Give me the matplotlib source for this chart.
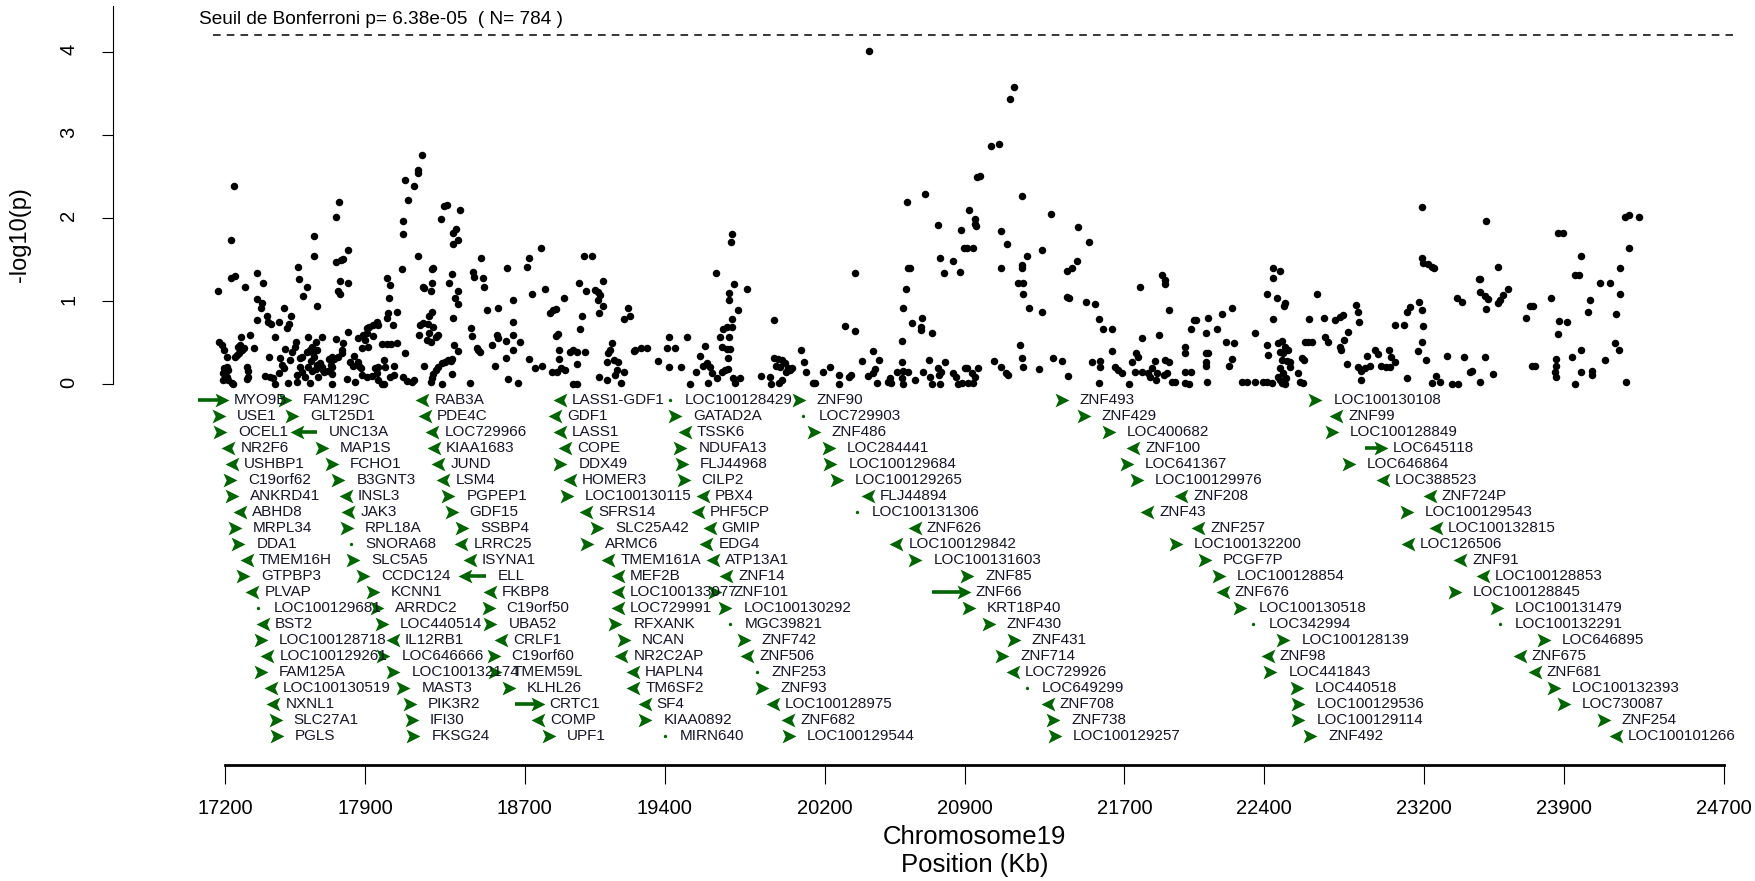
import numpy as np
import matplotlib.pyplot as plt
from matplotlib.path import Path

plt.rcParams['font.family'] = ['Liberation Sans', 'DejaVu Sans']

# SNP results along chromosome 19: (position in kb, -log10 p)
block_1 = [
    (17245, 2.38), (17230, 1.73), (17230, 1.27), (17250, 1.30), (17163, 1.12), (17302, 1.17),
    (17362, 1.33), (17392, 1.22), (17362, 1.02), (17387, 0.97), (17379, 0.91), (17360, 0.77),
    (17410, 0.82), (17417, 0.75), (17430, 0.72), (17470, 0.75), (17494, 0.92), (17530, 0.82),
    (17522, 0.72), (17512, 0.67), (17572, 1.26), (17610, 1.17), (17589, 1.06), (17662, 0.94),
    (17567, 1.41), (17647, 1.78), (17647, 1.54),
    (17684, 0.57), (17617, 0.57), (17656, 0.51), (17634, 0.45), (17659, 0.41), (17642, 0.37),
    (17626, 0.41), (17609, 0.39), (17647, 0.33), (17631, 0.28), (17617, 0.21), (17634, 0.16),
    (17656, 0.18), (17659, 0.23), (17676, 0.25), (17684, 0.21), (17692, 0.17), (17697, 0.14),
    (17667, 0.09), (17626, 0.01), (17600, 0.09), (17584, 0.15), (17575, 0.21), (17559, 0.11),
    (17559, 0.03), (17575, 0.31), (17587, 0.32), (17554, 0.51), (17550, 0.45), (17534, 0.39),
    (17525, 0.29), (17500, 0.42), (17497, 0.19), (17517, 0.01), (17484, 0.23), (17475, 0.31),
    (17450, 0.57), (17472, 0.13), (17442, 0.07), (17450, 0.00), (17420, 0.32), (17425, 0.09),
    (17400, 0.10), (17325, 0.59), (17280, 0.57), (17275, 0.47), (17287, 0.41), (17270, 0.37),
    (17297, 0.43), (17267, 0.45), (17250, 0.32), (17259, 0.35), (17347, 0.43), (17309, 0.21),
    (17314, 0.16), (17317, 0.09), (17309, 0.06), (17172, 0.50), (17183, 0.47), (17197, 0.41),
    (17209, 0.33), (17209, 0.21), (17217, 0.17), (17197, 0.19), (17192, 0.13), (17209, 0.09),
    (17217, 0.05), (17192, 0.05), (17234, 0.01), (17242, 0.00),
]

block_2 = [
    (18188, 2.75), (18164, 2.57), (18164, 2.54), (18099, 2.45), (18144, 2.38), (18114, 2.22),
    (17771, 2.19), (17756, 2.01), (18093, 1.96), (18093, 1.80), (18296, 2.14), (18313, 2.15),
    (18378, 2.09), (18283, 1.99), (18354, 1.87), (18343, 1.82), (18364, 1.73), (18343, 1.68),
    (18166, 1.54), (17816, 1.61), (17789, 1.51), (17754, 1.47), (17779, 1.49), (18086, 1.38),
    (18334, 1.32), (18319, 1.21), (18243, 1.40), (18234, 1.38), (18238, 1.22), (18231, 1.12),
    (18189, 1.17), (18198, 1.16), (18364, 1.12), (18351, 1.03), (18368, 0.96),
    (17766, 1.12), (17776, 1.08), (17777, 1.24), (17816, 1.22), (18012, 1.28), (18027, 1.19),
    (18021, 1.03), (18063, 0.87), (18017, 0.86), (18011, 0.79), (18042, 0.71), (18234, 0.87),
    (18223, 0.82), (18341, 0.80), (18348, 0.47), (18364, 0.40), (18334, 0.12), (18338, 0.30),
    (18329, 0.28), (18318, 0.29), (18301, 0.27), (18284, 0.25), (18268, 0.21), (18254, 0.17),
    (18243, 0.12), (18234, 0.07), (18231, 0.03), (18284, 0.00), (18194, 0.22), (18174, 0.71),
    (18189, 0.73), (18214, 0.72), (18173, 0.59), (18209, 0.53), (18231, 0.50), (18254, 0.57),
    (18266, 0.59), (18243, 0.69), (18223, 0.61), (18101, 0.37), (18093, 0.09), (18113, 0.04),
    (18134, 0.03), (18148, 0.05), (18044, 0.22), (18046, 0.11), (18026, 0.09), (17996, 0.29),
    (18001, 0.20), (17998, 0.00), (17984, 0.00), (17967, 0.05), (17959, 0.13), (17964, 0.21),
    (17951, 0.19), (17934, 0.10), (17909, 0.09), (17884, 0.11), (17879, 0.19), (17849, 0.03),
    (17809, 0.06), (17847, 0.34), (17826, 0.26), (17839, 0.22), (17867, 0.26), (17871, 0.22),
    (17814, 0.63), (17792, 0.49), (17787, 0.37), (17784, 0.41), (17764, 0.33), (17747, 0.30),
    (17734, 0.32), (17721, 0.30), (17729, 0.23), (17734, 0.20), (17717, 0.16), (17734, 0.12),
    (17734, 0.00), (17756, 0.54), (17867, 0.55), (17892, 0.59), (17909, 0.61), (17901, 0.53),
    (17884, 0.43), (17914, 0.45), (17909, 0.67), (17922, 0.69), (17942, 0.71), (17959, 0.75),
    (17967, 0.71), (17939, 0.58), (17984, 0.48), (18009, 0.48), (18029, 0.48), (18063, 0.49),
]

block_3 = [
    (18480, 1.52), (18781, 1.64), (18721, 1.52), (18713, 1.41), (18611, 1.40), (18443, 1.35),
    (18448, 1.29), (18490, 1.28), (18496, 1.17), (18510, 0.89), (18568, 0.92), (18641, 1.01),
    (18641, 0.75), (18736, 1.08), (18801, 1.14), (18897, 1.03), (18825, 0.86), (18840, 0.89),
    (18855, 0.90), (18855, 0.58), (18868, 0.60), (18873, 0.41), (18927, 0.39), (18943, 0.41),
    (18873, 0.30), (18882, 0.19), (18902, 0.17), (18835, 0.14), (18863, 0.14), (18943, 0.00),
    (18721, 0.30), (18750, 0.19), (18786, 0.22), (18668, 0.01), (18618, 0.06), (18553, 0.22),
    (18605, 0.31), (18641, 0.41), (18641, 0.59), (18605, 0.52), (18568, 0.55), (18560, 0.59),
    (18538, 0.47), (18676, 0.50), (18429, 0.67), (18434, 0.58), (18468, 0.41), (18460, 0.43),
    (18476, 0.38), (18428, 0.01),
    (18996, 1.54), (19034, 1.54), (18971, 1.21), (19004, 1.12), (19093, 1.24), (19093, 0.94),
    (19068, 1.11), (19051, 1.13), (19076, 1.07), (19068, 1.01), (19071, 0.85), (18984, 0.82),
    (18976, 0.66), (19001, 0.38), (18959, 0.39), (18959, 0.24), (18959, 0.00),
    (19218, 0.92), (19226, 0.82), (19198, 0.78), (19196, 0.15), (19183, 0.01), (19159, 0.17),
    (19151, 0.11), (19164, 0.26), (19148, 0.29), (19126, 0.41), (19114, 0.37), (19134, 0.49),
    (19109, 0.27), (19109, 0.05), (19071, 0.08), (19310, 0.43), (19281, 0.43), (19251, 0.41),
    (19245, 0.40), (19365, 0.28), (19410, 0.43), (19451, 0.43), (19423, 0.57), (19423, 0.20),
    (19511, 0.57), (19481, 0.20), (19555, 0.15), (19525, 0.00),
]

block_4 = [
    (19737, 1.81), (19730, 1.71), (19657, 1.33), (19745, 1.20), (19723, 1.09), (19722, 1.01),
    (19810, 1.14), (19765, 0.89), (19735, 0.78), (19693, 0.66), (19710, 0.68), (19735, 0.68),
    (19722, 0.57), (19678, 0.57), (19685, 0.45), (19710, 0.42), (19727, 0.42), (19718, 0.31),
    (19702, 0.17), (19715, 0.18), (19685, 0.15), (19743, 0.07), (19777, 0.07), (19752, 0.01),
    (19660, 0.07), (19638, 0.13), (19615, 0.01), (19627, 0.21), (19610, 0.25), (19593, 0.22),
    (19576, 0.34), (19601, 0.46),
    (19948, 0.77), (19948, 0.31), (19968, 0.30), (19988, 0.29), (20002, 0.25), (20018, 0.19),
    (20027, 0.17), (20005, 0.14), (19977, 0.21), (19957, 0.22), (19927, 0.09), (19882, 0.10),
    (19930, 0.00), (19974, 0.01), (19985, 0.05), (20035, 0.19), (20105, 0.14), (20095, 0.26),
    (20082, 0.41), (20229, 0.20), (20192, 0.14), (20140, 0.01), (20152, 0.01), (20272, 0.11),
    (20272, 0.00), (20332, 0.11), (20322, 0.09), (20352, 1.33), (20302, 0.70), (20352, 0.64),
    (20389, 0.28), (20440, 0.40), (20474, 0.29), (20452, 0.18), (20419, 0.10), (20440, 0.13),
    (20461, 0.01), (20527, 0.07), (20532, 0.01), (20519, 0.03), (20421, 4.01),
]

block_5 = [
    (20702, 2.29), (20614, 2.19), (20769, 1.91), (20883, 1.85), (20898, 1.64), (20777, 1.52),
    (20841, 1.48), (20797, 1.33), (20879, 1.35), (20616, 1.40), (20629, 1.40), (20607, 1.14),
    (20592, 0.91), (20636, 0.73), (20681, 0.69), (20681, 0.65), (20686, 0.80), (20739, 0.61),
    (20586, 0.52), (20586, 0.27), (20724, 0.29), (20803, 0.26), (20564, 0.15), (20594, 0.16),
    (20619, 0.15), (20586, 0.07), (20594, 0.00), (20652, 0.05), (20694, 0.15), (20727, 0.09),
    (20739, 0.00), (20769, 0.19), (20783, 0.15), (20774, 0.11), (20777, 0.00), (20844, 0.13),
    (20856, 0.09), (20866, 0.00), (20886, 0.01), (20903, 0.19),
    (21035, 2.86), (21074, 2.89), (20964, 2.49), (20977, 2.50), (20922, 2.09), (20952, 1.98),
    (20960, 1.90), (20952, 1.93), (20910, 1.64), (20944, 1.64), (21186, 2.26), (21332, 2.05),
    (21082, 1.84), (21112, 1.68), (21214, 1.54), (21287, 1.61), (21082, 1.40), (21186, 1.43),
    (21186, 1.40), (21169, 1.22), (21194, 1.21), (21194, 1.08), (21222, 0.91), (21287, 0.87),
    (21150, 3.58), (21127, 3.43),
    (21177, 0.47), (21189, 0.31), (21194, 0.21), (21272, 0.18), (21344, 0.31), (21386, 0.28),
    (21419, 0.10), (21047, 0.28), (21082, 0.20), (21110, 0.13), (21119, 0.11), (20910, 0.19),
    (20935, 0.13), (20969, 0.19), (20952, 0.09), (20919, 0.01), (20944, 0.01),
    (21469, 1.89), (21521, 1.71), (21462, 1.48), (21436, 1.40), (21411, 1.36), (21411, 1.05),
    (21422, 1.04), (21507, 0.99), (21553, 0.96), (21573, 0.78), (21594, 0.66), (21636, 0.66),
    (21636, 0.40),
]

block_6 = [
    (21776, 1.17), (21886, 1.31), (21903, 1.25), (21903, 1.20), (21923, 0.89), (21786, 0.55),
    (21873, 0.59), (21536, 0.27), (21577, 0.28), (21577, 0.20), (21573, 0.01), (21653, 0.21),
    (21669, 0.17), (21686, 0.13), (21724, 0.00), (21736, 0.27), (21756, 0.37), (21769, 0.33),
    (21753, 0.15), (21786, 0.14), (21819, 0.13), (21836, 0.19), (21853, 0.28), (21861, 0.13),
    (21856, 0.05), (21828, 0.09), (21903, 0.29), (21923, 0.26), (21900, 0.11), (21911, 0.13),
    (21953, 0.02), (21936, 0.03), (22003, 0.45), (22003, 0.37), (22003, 0.15), (22031, 0.15),
    (22023, 0.00), (22003, 0.01), (22033, 0.66), (22050, 0.77), (22058, 0.77), (22106, 0.61),
    (22120, 0.80), (22165, 0.66), (22186, 0.84), (22236, 0.91), (22106, 0.37), (22120, 0.37),
    (22106, 0.26), (22106, 0.22), (22115, 0.03), (22208, 0.50), (22250, 0.49), (22236, 0.30),
    (22223, 0.22),
]

block_7 = [
    (22353, 0.61), (22290, 0.03), (22311, 0.03), (22353, 0.03), (22395, 0.03), (22412, 0.03),
    (22437, 0.01), (22420, 0.35), (22413, 0.47), (22442, 1.39), (22478, 1.36), (22445, 1.27),
    (22412, 1.08), (22465, 1.03), (22503, 0.98), (22500, 0.94), (22445, 0.78), (22470, 0.49),
    (22487, 0.52), (22503, 0.45), (22478, 0.39), (22495, 0.37), (22520, 0.41), (22487, 0.29),
    (22512, 0.28), (22528, 0.26), (22528, 0.21), (22478, 0.19), (22495, 0.13), (22470, 0.09),
    (22507, 0.07), (22503, 0.00), (22487, 0.01), (22478, 0.05), (22587, 0.31), (22600, 0.29),
    (22570, 0.13), (22578, 0.03), (22595, 0.01), (22603, 0.51), (22620, 0.51), (22637, 0.51),
    (22625, 0.78), (22662, 1.08), (22698, 0.80), (22753, 0.77), (22778, 0.81), (22795, 0.83),
    (22817, 0.63), (22800, 0.53), (22778, 0.45), (22783, 0.41), (22703, 0.57), (22720, 0.51),
    (22812, 0.24),
    (22956, 0.41), (22970, 0.36), (22916, 0.34), (23025, 0.41), (23036, 0.33), (23056, 0.26),
    (22986, 0.22), (23011, 0.20), (23028, 0.20), (22928, 0.22), (22903, 0.19), (22886, 0.16),
    (22870, 0.21), (22886, 0.05), (22861, 0.95), (22870, 0.87), (22873, 0.75), (23115, 0.07),
]

block_8 = [
    (23188, 2.13), (23509, 1.96), (23870, 1.82), (23895, 1.82), (24204, 2.01), (24224, 2.03),
    (24276, 2.01), (24224, 1.64), (24182, 1.40), (23984, 1.54), (23954, 1.31), (23974, 1.31),
    (24079, 1.22), (24132, 1.22), (24179, 1.08), (24029, 1.01), (24021, 0.87), (24159, 0.84),
    (24154, 0.49), (24176, 0.41), (24107, 0.29), (24212, 0.03), (23984, 0.41), (23941, 0.32),
    (23984, 0.14), (24042, 0.16), (24042, 0.11), (23954, 0.00), (23834, 1.03), (23874, 0.76),
    (23912, 0.75), (23867, 0.60), (23860, 0.30), (23859, 0.22), (23854, 0.15), (23860, 0.08),
    (23729, 0.94), (23745, 0.94), (23707, 0.80), (23737, 0.22), (23754, 0.22), (23567, 1.41),
    (23480, 1.26), (23473, 1.26), (23480, 1.11), (23503, 1.06), (23517, 1.02), (23509, 0.90),
    (23620, 1.14), (23595, 1.07), (23579, 1.01), (23567, 0.97), (23362, 1.03), (23387, 0.99),
    (23188, 1.52), (23195, 1.46), (23220, 1.45), (23237, 1.41), (23250, 1.40), (23173, 0.99),
    (23187, 0.89), (23195, 0.70), (23187, 0.50), (23170, 0.40), (23208, 0.29), (23128, 0.93),
    (23112, 0.87), (23100, 0.71), (23053, 0.71), (23312, 0.34), (23400, 0.32), (23503, 0.32),
    (23545, 0.12), (23478, 0.03), (23428, 0.14), (23437, 0.16), (23258, 0.10), (23278, 0.03),
    (23237, 0.01), (23337, 0.00), (23370, 0.00),
]

bonf_p = 6.38e-05
n_snp = 784

x_ticks = [17200, 17900, 18700, 19400, 20200, 20900, 21700, 22400, 23200, 23900, 24700]

# genes: (name, start kb, end kb, strand); one list per column of labels
genes_1 = [
    ("MYO9B", 17067, 17183, 1), ("USE1", 17170, 17170, 1), ("OCEL1", 17175, 17175, 1),
    ("NR2F6", 17217, 17217, -1), ("USHBP1", 17234, 17234, -1), ("C19orf62", 17225, 17225, 1),
    ("ANKRD41", 17234, 17234, 1), ("ABHD8", 17275, 17275, -1), ("MRPL34", 17250, 17250, 1),
    ("DDA1", 17267, 17267, 1), ("TMEM16H", 17309, 17309, -1), ("GTPBP3", 17292, 17292, 1),
    ("PLVAP", 17337, 17337, -1), ("LOC100129681", 17367, 17367, 0), ("BST2", 17389, 17389, -1),
    ("LOC100128718", 17380, 17380, 1), ("LOC100129261", 17412, 17412, -1), ("FAM125A", 17380, 17380, 1),
    ("LOC100130519", 17429, 17429, -1), ("NXNL1", 17442, 17442, -1), ("SLC27A1", 17454, 17454, 1),
    ("PGLS", 17459, 17459, 1),
]
genes_2 = [
    ("FAM129C", 17500, 17500, 1), ("GLT25D1", 17534, 17534, 1), ("UNC13A", 17559, 17659, -1),
    ("MAP1S", 17684, 17684, 1), ("FCHO1", 17734, 17734, 1), ("B3GNT3", 17767, 17767, 1),
    ("INSL3", 17804, 17804, -1), ("JAK3", 17817, 17817, -1), ("RPL18A", 17809, 17809, 1),
    ("SNORA68", 17829, 17829, 0), ("SLC5A5", 17842, 17842, 1), ("CCDC124", 17892, 17892, 1),
    ("KCNN1", 17939, 17939, 1), ("ARRDC2", 17959, 17959, 1), ("LOC440514", 17984, 17984, 1),
    ("IL12RB1", 18039, 18039, -1), ("LOC646666", 17992, 17992, 1), ("LOC100132174", 18043, 18043, 1),
    ("MAST3", 18093, 18093, 1), ("PIK3R2", 18126, 18126, 1), ("IFI30", 18134, 18134, 1),
    ("FKSG24", 18143, 18143, 1),
]
genes_3 = [
    ("RAB3A", 18188, 18188, -1), ("PDE4C", 18201, 18201, -1), ("LOC729966", 18238, 18238, -1),
    ("KIAA1683", 18246, 18246, -1), ("JUND", 18268, 18268, -1), ("LSM4", 18293, 18293, -1),
    ("PGPEP1", 18318, 18318, 1), ("GDF15", 18334, 18334, 1), ("SSBP4", 18386, 18386, 1),
    ("LRRC25", 18383, 18383, -1), ("ISYNA1", 18424, 18424, -1), ("ELL", 18400, 18505, -1),
    ("FKBP8", 18524, 18524, -1), ("C19orf50", 18519, 18519, 1), ("UBA52", 18528, 18528, 1),
    ("CRLF1", 18583, 18583, -1), ("C19orf60", 18544, 18544, 1), ("TMEM59L", 18550, 18550, 1),
    ("KLHL26", 18620, 18620, 1), ("CRTC1", 18651, 18764, 1), ("COMP", 18766, 18766, -1),
    ("UPF1", 18820, 18820, 1),
]
genes_4 = [
    ("LASS1-GDF1", 18875, 18875, -1), ("GDF1", 18850, 18850, -1), ("LASS1", 18875, 18875, -1),
    ("COPE", 18900, 18900, -1), ("DDX49", 18878, 18878, 1), ("HOMER3", 18925, 18925, -1),
    ("LOC100130115", 18911, 18911, 1), ("SFRS14", 19008, 19008, -1), ("SLC25A42", 19062, 19062, 1),
    ("ARMC6", 19012, 19012, 1), ("TMEM161A", 19117, 19117, -1), ("MEF2B", 19167, 19167, -1),
    ("LOC100133077", 19167, 19167, -1), ("LOC729991", 19167, 19167, -1), ("RFXANK", 19153, 19153, 1),
    ("NCAN", 19195, 19195, 1), ("NR2C2AP", 19183, 19183, -1), ("HAPLN4", 19242, 19242, -1),
    ("TM6SF2", 19242, 19242, -1), ("SF4", 19300, 19300, -1), ("KIAA0892", 19303, 19303, 1),
    ("MIRN640", 19402, 19402, 0),
]
genes_5 = [
    ("LOC100128429", 19427, 19427, 0), ("GATAD2A", 19454, 19454, 1), ("TSSK6", 19500, 19500, -1),
    ("NDUFA13", 19479, 19479, 1), ("FLJ44968", 19487, 19487, 1), ("CILP2", 19495, 19495, 1),
    ("PBX4", 19590, 19590, -1), ("PHF5CP", 19567, 19567, -1), ("GMIP", 19625, 19625, -1),
    ("EDG4", 19609, 19609, -1), ("ATP13A1", 19642, 19642, -1), ("ZNF14", 19709, 19709, -1),
    ("ZNF101", 19654, 19654, 1), ("LOC100130292", 19704, 19704, 1), ("MGC39821", 19727, 19727, 0),
    ("ZNF742", 19795, 19795, 1), ("ZNF506", 19812, 19812, -1), ("ZNF253", 19860, 19860, 0),
    ("ZNF93", 19887, 19887, 1), ("LOC100128975", 19942, 19942, -1), ("ZNF682", 20017, 20017, -1),
    ("LOC100129544", 20021, 20021, 1),
]
genes_6 = [
    ("ZNF90", 20071, 20071, 1), ("LOC729903", 20094, 20094, 0), ("ZNF486", 20146, 20146, 1),
    ("LOC284441", 20221, 20221, 1), ("LOC100129684", 20229, 20229, 1), ("LOC100129265", 20262, 20262, 1),
    ("FLJ44894", 20417, 20417, -1), ("LOC100131306", 20361, 20361, 0), ("ZNF626", 20651, 20651, -1),
    ("LOC100129842", 20559, 20559, -1), ("LOC100131603", 20654, 20654, 1), ("ZNF85", 20913, 20913, 1),
    ("ZNF66", 20736, 20896, 1), ("KRT18P40", 20921, 20921, 1), ("ZNF430", 21021, 21021, 1),
    ("ZNF431", 21146, 21146, 1), ("ZNF714", 21088, 21088, 1), ("LOC729926", 21143, 21143, -1),
    ("LOC649299", 21211, 21211, 0), ("ZNF708", 21317, 21317, -1), ("ZNF738", 21345, 21345, 1),
    ("LOC100129257", 21354, 21354, 1),
]
genes_7 = [
    ("ZNF493", 21387, 21387, 1), ("ZNF429", 21496, 21496, 1), ("LOC400682", 21621, 21621, 1),
    ("ZNF100", 21745, 21745, -1), ("LOC641367", 21712, 21712, 1), ("LOC100129976", 21762, 21762, 1),
    ("ZNF208", 21985, 21985, -1), ("ZNF43", 21815, 21815, -1), ("ZNF257", 22070, 22070, -1),
    ("LOC100132200", 21958, 21958, 1), ("PCGF7P", 22104, 22104, 1), ("LOC100128854", 22171, 22171, 1),
    ("ZNF676", 22193, 22193, -1), ("LOC100130518", 22280, 22280, 1), ("LOC342994", 22345, 22345, 0),
    ("LOC100128139", 22496, 22496, 1), ("ZNF98", 22418, 22418, -1), ("LOC441843", 22430, 22430, 1),
    ("LOC440518", 22563, 22563, 1), ("LOC100129536", 22571, 22571, 1), ("LOC100129114", 22571, 22571, 1),
    ("ZNF492", 22630, 22630, 1),
]
genes_8 = [
    ("LOC100130108", 22655, 22655, 1), ("ZNF99", 22760, 22760, -1), ("LOC100128849", 22738, 22738, 1),
    ("LOC645118", 22903, 22983, 1), ("LOC646864", 22822, 22822, 1), ("LOC388523", 22993, 22993, -1),
    ("ZNF724P", 23227, 23227, -1), ("LOC100129543", 23113, 23113, 1), ("LOC100132815", 23260, 23260, -1),
    ("LOC126506", 23118, 23118, -1), ("ZNF91", 23380, 23380, -1), ("LOC100128853", 23495, 23495, -1),
    ("LOC100128845", 23355, 23355, 1), ("LOC100131479", 23564, 23564, 1), ("LOC100132291", 23579, 23579, 0),
    ("LOC646895", 23797, 23797, 1), ("ZNF675", 23677, 23677, -1), ("ZNF681", 23752, 23752, -1),
    ("LOC100132393", 23847, 23847, 1), ("LOC730087", 23897, 23897, 1), ("ZNF254", 24098, 24098, 1),
    ("LOC100101266", 24160, 24160, -1),
]

fig = plt.figure(figsize=(17.55, 8.81), dpi=100)
ax = fig.add_axes([0, 0, 1, 1])

# pixel layout of the R device
px_per_kb = 1499 / 7500
px_per_unit = 83.1


def kb(px):
    return px / px_per_kb


def yv(py):
    return (384 - py) / px_per_unit


ax.set_xlim(17200 - kb(225), 17200 + kb(1755 - 225))
ax.set_ylim(yv(881), yv(0))

# scatter of SNP p-values
for block in (block_1, block_2, block_3, block_4, block_5, block_6, block_7, block_8):
    xs, ys = zip(*block)
    ax.plot(xs, ys, 'o', color='black', ms=5.4, mew=0, ls='none')

# Bonferroni threshold
bonf = -np.log10(bonf_p)
ax.plot([17200 - kb(12), 24700 + kb(9)], [bonf, bonf], color='black', lw=1.1, ls=(0, (5, 4)))
ax.text(17200 - kb(26), yv(19), f"Seuil de Bonferroni p= {bonf_p:.2e}  ( N= {n_snp} )",
        fontsize=13.7, va='center', ha='left')

# gene track
codes = [Path.MOVETO, Path.LINETO, Path.LINETO, Path.LINETO, Path.CLOSEPOLY]
right_head = Path([(-1, 1), (1, 0), (-1, -1), (-0.55, 0), (-1, 1)], codes)
left_head = Path([(1, 1), (-1, 0), (1, -1), (0.55, 0), (1, 1)], codes)
green = '#006400'

for col in (genes_1, genes_2, genes_3, genes_4, genes_5, genes_6, genes_7, genes_8):
    for row, (name, start, end, strand) in enumerate(col):
        y = yv(399.6 + 16.04 * row)
        if strand == 0:
            ax.plot(start, y, 'o', color=green, ms=2.4, mew=0)
            tx = start + kb(15)
        else:
            head = right_head if strand > 0 else left_head
            if end > start:
                ax.plot([start, end], [y, y], color=green, lw=2.6, solid_capstyle='butt')
                hx = end if strand > 0 else start
                tx = end + kb(12)
            else:
                hx = start
                tx = start + kb(18 if strand > 0 else 12)
            ax.plot(hx, y, marker=head, color=green, ms=10, mew=0, ls='none')
        ax.text(tx, y, name, fontsize=11, va='center', ha='left', color='#15152a')

# axes in R style
for s in ('top', 'right'):
    ax.spines[s].set_visible(False)
ax.spines['left'].set_position(('data', 17200 - kb(225 - 113)))
ax.spines['left'].set_bounds(0, 4.55)
ax.spines['bottom'].set_position(('data', yv(764.5)))
ax.spines['bottom'].set_bounds(17200, 24700)
ax.spines['bottom'].set_linewidth(2)
ax.set_yticks(range(5))
ax.set_xticks(x_ticks)
ax.tick_params(axis='y', length=8, pad=17, labelsize=14.5, labelrotation=90)
ax.tick_params(axis='x', length=13.5, pad=11, labelsize=14.5)

mid = (17200 + 24700) / 2
ax.text(mid, yv(837), 'Chromosome19', ha='center', va='center', fontsize=18.5)
ax.text(mid, yv(865), 'Position (Kb)', ha='center', va='center', fontsize=18.5)
ax.text(17200 - kb(205), 1.8, '-log10(p)', rotation=90, ha='center', va='center', fontsize=17)

fig.savefig('out.png', dpi=100)
